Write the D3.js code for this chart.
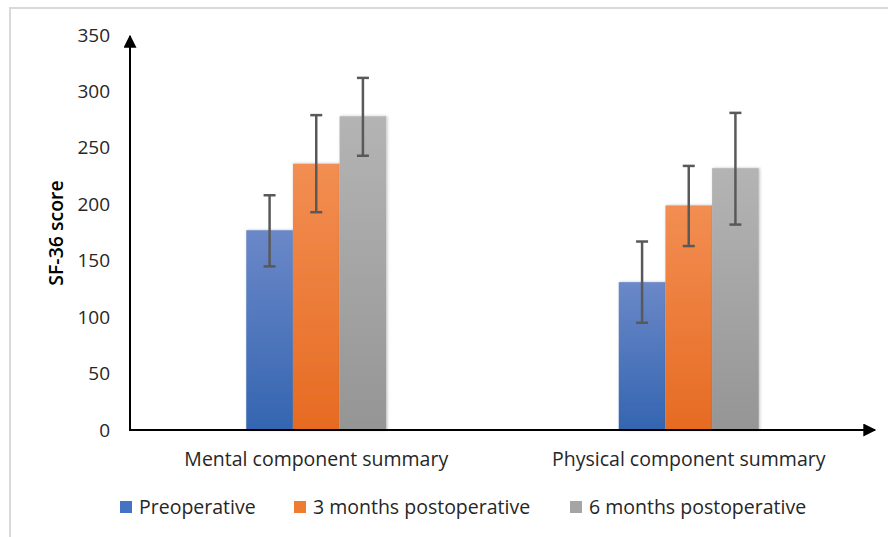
<!DOCTYPE html>
<html><head><meta charset="utf-8">
<script src="https://cdn.jsdelivr.net/npm/d3@7"></script>
<style>body{margin:0;background:#fff;} text{font-family:"Open Sans",sans-serif;}</style>
</head><body>
<svg id="chart" width="888" height="537"></svg>
<script>
const categories = ["Mental component summary", "Physical component summary"];
const seriesNames = ["Preoperative", "3 months postoperative", "6 months postoperative"];
const preoperative = [177, 131];
const months3 = [236, 199];
const months6 = [278, 232];
const preoperativeErr = [[145, 208], [95, 167]];
const months3Err = [[193, 279], [163, 234]];
const months6Err = [[243, 312], [182, 281]];
const yTicks = [0, 50, 100, 150, 200, 250, 300, 350];

const seriesVals = [preoperative, months3, months6];
const seriesErrs = [preoperativeErr, months3Err, months6Err];
const colors = ["#4472c4", "#ed7d31", "#a5a5a5"];
const gradTop = ["#6b88c8", "#f28e52", "#b4b4b4"];
const gradBot = ["#3465b0", "#e66b22", "#959595"];

const svg = d3.select("#chart");
const defs = svg.append("defs");
seriesNames.forEach((s, i) => {
  const g = defs.append("linearGradient").attr("id", "g" + i).attr("x1", 0).attr("y1", 0).attr("x2", 0).attr("y2", 1);
  g.append("stop").attr("offset", "0%").attr("stop-color", gradTop[i]);
  g.append("stop").attr("offset", "100%").attr("stop-color", gradBot[i]);
});
const f = defs.append("filter").attr("id", "sh").attr("x", "-20%").attr("y", "-5%").attr("width", "140%").attr("height", "110%");
f.append("feDropShadow").attr("dx", 1).attr("dy", 0).attr("stdDeviation", 1.5).attr("flood-color", "#000").attr("flood-opacity", 0.25);
const ar = defs.append("marker").attr("id", "arrow").attr("viewBox", "0 0 10 10").attr("refX", 9).attr("refY", 5)
  .attr("markerWidth", 14).attr("markerHeight", 13).attr("markerUnits", "userSpaceOnUse").attr("orient", "auto");
ar.append("path").attr("d", "M0,0 L10,5 L0,10 z").attr("fill", "#000");

// frame
svg.append("rect").attr("x", 10).attr("y", 8).attr("width", 900).attr("height", 560)
  .attr("fill", "none").attr("stroke", "#d9d9d9").attr("stroke-width", 2);

const x0 = d3.scaleBand().domain(categories).range([130, 875]).padding(0);
const x1 = d3.scaleBand().domain(seriesNames).range([0, 140]);
const y = d3.scaleLinear().domain([0, 350]).range([430, 35]);

// bars
categories.forEach((c, ci) => {
  const off = x0(c) + x0.bandwidth() / 2 - 70;
  seriesNames.forEach((s, si) => {
    svg.append("rect").attr("x", off + x1(s)).attr("y", y(seriesVals[si][ci]))
      .attr("width", x1.bandwidth()).attr("height", y(0) - y(seriesVals[si][ci]))
      .attr("fill", `url(#g${si})`).attr("filter", "url(#sh)");
  });
});
// error bars
categories.forEach((c, ci) => {
  const off = x0(c) + x0.bandwidth() / 2 - 70;
  seriesNames.forEach((s, si) => {
    const cx = off + x1(s) + x1.bandwidth() / 2;
    const [lo, hi] = seriesErrs[si][ci];
    const g = svg.append("g").attr("stroke", "#595959").attr("stroke-width", 2.5);
    g.append("line").attr("x1", cx).attr("x2", cx).attr("y1", y(lo)).attr("y2", y(hi));
    g.append("line").attr("x1", cx - 6).attr("x2", cx + 6).attr("y1", y(lo)).attr("y2", y(lo));
    g.append("line").attr("x1", cx - 6).attr("x2", cx + 6).attr("y1", y(hi)).attr("y2", y(hi));
  });
});

// y axis tick labels
const yAxis = d3.axisLeft(y).tickValues(yTicks).tickSize(0).tickPadding(20);
const ya = svg.append("g").attr("transform", "translate(130,0)").call(yAxis);
ya.select(".domain").remove();
ya.selectAll("text").attr("font-size", 19).attr("fill", "#262626").attr("font-family", "Open Sans");

// axis lines with arrows
svg.append("line").attr("x1", 130).attr("y1", y(0)).attr("x2", 130).attr("y2", 36)
  .attr("stroke", "#000").attr("stroke-width", 2).attr("marker-end", "url(#arrow)");
svg.append("line").attr("x1", 129).attr("y1", y(0)).attr("x2", 875).attr("y2", y(0))
  .attr("stroke", "#000").attr("stroke-width", 2).attr("marker-end", "url(#arrow)");

// category labels
const xAxis = d3.axisBottom(x0).tickSize(0).tickPadding(22);
const xa = svg.append("g").attr("transform", `translate(0,${y(0)})`).call(xAxis);
xa.select(".domain").remove();
xa.selectAll("text").attr("font-size", 19.5).attr("fill", "#262626").attr("font-family", "Open Sans");

// y label
svg.append("text").attr("transform", "translate(63,233) rotate(-90)").attr("text-anchor", "middle")
  .attr("font-size", 19.5).attr("fill", "#000").attr("font-weight", 600).text("SF-36 score");

// legend
const legX = [120, 294, 570];
seriesNames.forEach((s, i) => {
  svg.append("rect").attr("x", legX[i]).attr("y", 501).attr("width", 12).attr("height", 12).attr("fill", colors[i]);
  svg.append("text").attr("x", legX[i] + 19).attr("y", 514).attr("font-size", 19.5).attr("fill", "#262626").text(s);
});
</script>
</body></html>
